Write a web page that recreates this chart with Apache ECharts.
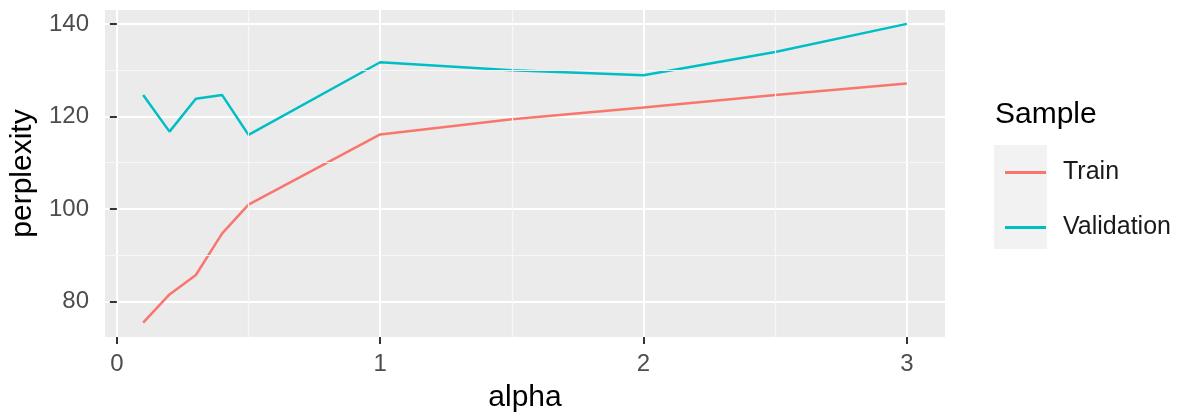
<!DOCTYPE html>
<html>
<head>
<meta charset="utf-8">
<script src="https://cdn.jsdelivr.net/npm/echarts@6/dist/echarts.min.js"></script>
<style>
  html, body { margin: 0; padding: 0; background: #fff; }
  #chart { width: 1187px; height: 417px; }
</style>
</head>
<body>
<div id="chart"></div>
<script>
const alpha = [0.1, 0.2, 0.3, 0.4, 0.5, 1, 1.5, 2, 2.5, 3];
const train = [75.4, 81.5, 85.7, 94.7, 100.9, 116.1, 119.4, 121.9, 124.6, 127.1];
const validation = [124.6, 116.7, 123.8, 124.6, 116.0, 131.7, 130.0, 128.9, 133.9, 140.0];
const xTicks = [0, 1, 2, 3];
const yTicks = [80, 100, 120, 140];
const xMinor = [0.5, 1.5, 2.5];
const yMinor = [90, 110, 130];
const seriesNames = ['Train', 'Validation'];

const FONT = '"Liberation Sans", Arial, sans-serif';
const chart = echarts.init(document.getElementById('chart'));

const pairs = (xs, ys) => xs.map((x, i) => [x, ys[i]]);

chart.setOption({
  animation: false,
  textStyle: { fontFamily: FONT },
  grid: {
    left: 105, right: 242, top: 10, bottom: 80,
    containLabel: false, outerBoundsMode: 'none',
    show: true, backgroundColor: '#EBEBEB', borderWidth: 0
  },
  xAxis: {
    type: 'value', min: -0.045, max: 3.145,
    axisLine: { show: false },
    axisTick: { show: true, customValues: xTicks, length: 7, lineStyle: { color: '#333', width: 2 } },
    axisLabel: { customValues: xTicks, fontSize: 24, color: '#4d4d4d', margin: 15, fontFamily: FONT },
    splitLine: { show: true, lineStyle: { color: '#fff', width: 2 } },
    name: 'alpha', nameLocation: 'middle', nameGap: 46,
    nameTextStyle: { fontSize: 30, color: '#000', fontFamily: FONT }
  },
  yAxis: {
    type: 'value', min: 72.3, max: 143,
    axisLine: { show: false },
    axisTick: { show: true, customValues: yTicks, length: 7, lineStyle: { color: '#333', width: 2 } },
    axisLabel: { customValues: yTicks, fontSize: 24, color: '#4d4d4d', margin: 16, fontFamily: FONT },
    splitLine: { show: true, lineStyle: { color: '#fff', width: 2 } },
    name: 'perplexity', nameLocation: 'middle', nameGap: 66, nameRotate: 90,
    nameTextStyle: { fontSize: 30, color: '#000', fontFamily: FONT }
  },
  legend: {
    orient: 'vertical', left: 1000, top: 155,
    data: seriesNames,
    icon: 'rect', itemWidth: 41, itemHeight: 3, itemGap: 30,
    textStyle: { fontSize: 25, color: '#1a1a1a', fontFamily: FONT, padding: [0, 0, 0, 12] }
  },
  graphic: [
    { type: 'rect', left: 994, top: 145, shape: { width: 53, height: 104 }, style: { fill: '#F2F2F2' }, z: -1 },
    { type: 'text', left: 995, top: 100, style: { text: 'Sample', fontSize: 30, fill: '#000', fontFamily: FONT } }
  ],
  series: [
    {
      type: 'line', name: '_grid', data: [], silent: true, z: 1,
      markLine: {
        silent: true, symbol: 'none', animation: false,
        label: { show: false },
        lineStyle: { color: '#F7F7F7', width: 1.2, type: 'solid' },
        data: xMinor.map(v => ({ xAxis: v })).concat(yMinor.map(v => ({ yAxis: v })))
      }
    },
    {
      type: 'line', name: seriesNames[0], data: pairs(alpha, train), z: 3,
      showSymbol: false, symbol: 'none',
      lineStyle: { color: '#F8766D', width: 2.5 }, itemStyle: { color: '#F8766D' }
    },
    {
      type: 'line', name: seriesNames[1], data: pairs(alpha, validation), z: 3,
      showSymbol: false, symbol: 'none',
      lineStyle: { color: '#00BFC4', width: 2.5 }, itemStyle: { color: '#00BFC4' }
    }
  ]
});
</script>
</body>
</html>
